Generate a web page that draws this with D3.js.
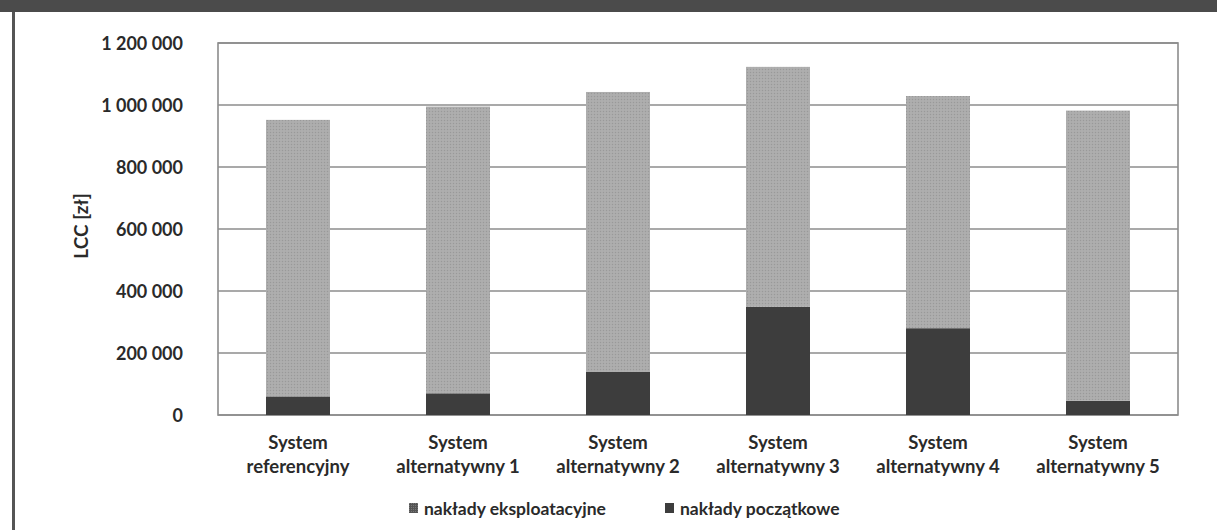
<!DOCTYPE html>
<html>
<head>
<meta charset="utf-8">
<script src="https://cdn.jsdelivr.net/npm/d3@7"></script>
<style>
  html, body { margin: 0; padding: 0; background: #fff; }
  svg { display: block; }
  text { font-family: Lato, "Open Sans", sans-serif; fill: #2a2a2a; }
</style>
</head>
<body>
<svg id="chart" width="1217" height="530"></svg>
<script>
// Life-cycle cost (LCC) of each heating system variant, in PLN
const categories = [
  ["System", "referencyjny"],
  ["System", "alternatywny 1"],
  ["System", "alternatywny 2"],
  ["System", "alternatywny 3"],
  ["System", "alternatywny 4"],
  ["System", "alternatywny 5"]
];
const initialCosts = [60000, 70000, 140000, 349000, 280000, 46000];      // nakłady początkowe
const operatingCosts = [892000, 925000, 902000, 774000, 749000, 936000]; // nakłady eksploatacyjne
const yTicks = [0, 200000, 400000, 600000, 800000, 1000000, 1200000];
const seriesNames = ["nakłady eksploatacyjne", "nakłady początkowe"];
const yTitle = "LCC [zł]";

const svg = d3.select("#chart");
const W = 1217, H = 530;
const m = { left: 218, right: 1178, top: 43, bottom: 415 };

// Page frame: dark strip along the top, rule down the left side
svg.append("rect").attr("x", 0).attr("y", 0).attr("width", W).attr("height", 12).attr("fill", "#4b4b4b");
svg.append("rect").attr("x", 12).attr("y", 12).attr("width", 3).attr("height", H - 12).attr("fill", "#555");

const defs = svg.append("defs");
const pat = defs.append("pattern").attr("id", "dots").attr("patternUnits", "userSpaceOnUse")
  .attr("width", 3).attr("height", 3);
pat.append("rect").attr("width", 3).attr("height", 3).attr("fill", "#ababab");
pat.append("rect").attr("x", 0).attr("y", 0).attr("width", 1).attr("height", 1).attr("fill", "#999");
pat.append("rect").attr("x", 1.5).attr("y", 1.5).attr("width", 1).attr("height", 1).attr("fill", "#b8b8b8");

const pd = defs.append("pattern").attr("id", "dotsDark").attr("patternUnits", "userSpaceOnUse")
  .attr("width", 2).attr("height", 2);
pd.append("rect").attr("width", 2).attr("height", 2).attr("fill", "#555");
pd.append("rect").attr("width", 1).attr("height", 1).attr("fill", "#777");

const x = d3.scaleBand().domain(d3.range(categories.length)).range([m.left, m.right]).paddingInner(0.6).paddingOuter(0.3);
const y = d3.scaleLinear().domain([0, 1200000]).range([m.bottom, m.top]);

// Gridlines and plot frame
svg.append("g").selectAll("line").data(yTicks).join("line")
  .attr("x1", m.left).attr("x2", m.right)
  .attr("y1", d => y(d)).attr("y2", d => y(d))
  .attr("stroke", "#8c8c8c").attr("stroke-width", 1.6);
svg.append("rect").attr("x", m.left).attr("y", m.top)
  .attr("width", m.right - m.left).attr("height", m.bottom - m.top)
  .attr("fill", "none").attr("stroke", "#8c8c8c").attr("stroke-width", 1.6);

// Stacked bars
const stackData = categories.map((c, i) => ({ i, init: initialCosts[i], oper: operatingCosts[i] }));
const stack = d3.stack().keys(["init", "oper"])(stackData);
const fills = { init: "#3d3d3d", oper: "url(#dots)" };
svg.append("g").selectAll("g").data(stack).join("g")
  .attr("fill", s => fills[s.key])
  .selectAll("rect").data(s => s).join("rect")
  .attr("x", d => x(d.data.i))
  .attr("width", x.bandwidth())
  .attr("y", d => y(d[1]))
  .attr("height", d => y(d[0]) - y(d[1]));

// Y axis labels
const fmt = v => d3.format(",")(v).replace(/,/g, " ");
const yAxis = svg.append("g").attr("transform", `translate(${m.left},0)`)
  .call(d3.axisLeft(y).tickValues(yTicks).tickFormat(fmt).tickSize(0).tickPadding(35));
yAxis.select(".domain").remove();
yAxis.selectAll("text").attr("font-size", 18).attr("font-weight", 700)
  .attr("font-family", "Lato, sans-serif").attr("fill", "#2a2a2a").attr("dy", "0.36em");

svg.append("text").attr("transform", `translate(88,226) rotate(-90)`)
  .attr("text-anchor", "middle").attr("font-size", 19).attr("font-weight", 700).text(yTitle);

// Category labels (two lines)
const xl = svg.append("g").selectAll("text").data(categories).join("text")
  .attr("text-anchor", "middle").attr("font-size", 18.5).attr("font-weight", 700)
  .attr("x", (d, i) => x(i) + x.bandwidth() / 2);
xl.selectAll("tspan").data(d => d).join("tspan")
  .attr("x", function () { return this.parentNode.getAttribute("x"); })
  .attr("y", (d, j) => 449 + j * 24).text(d => d);

// Legend
const legend = [
  { name: seriesNames[0], fill: "url(#dotsDark)", x: 409 },
  { name: seriesNames[1], fill: "#3d3d3d", x: 665 }
];
const lg = svg.append("g").selectAll("g").data(legend).join("g")
  .attr("transform", d => `translate(${d.x},515)`);
lg.append("rect").attr("x", 0).attr("y", -12).attr("width", 9).attr("height", 10).attr("fill", d => d.fill);
lg.append("text").attr("x", 15).attr("y", 0).attr("font-size", 17.5).attr("font-weight", 700).text(d => d.name);
</script>
</body>
</html>
